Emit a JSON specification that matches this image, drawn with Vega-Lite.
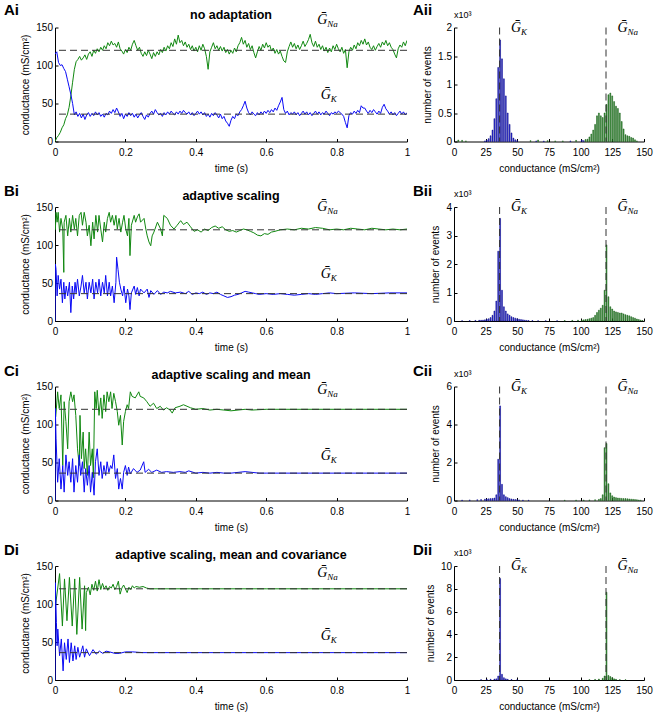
{
"$schema": "https://vega.github.io/schema/vega-lite/v6.json",
"padding": {"left": 3, "top": 2.5, "right": 5, "bottom": 5},
"config": {
  "font": "Liberation Sans",
  "view": {"stroke": null},
  "axis": {"labelFont": "Liberation Sans", "labelFontSize": 10, "labelColor": "#000", "titleFont": "Liberation Sans", "titleFontSize": 10, "titleFontWeight": "normal", "titleColor": "#000", "domainColor": "#000", "tickColor": "#000", "grid": false, "tickSize": -3, "labelFlush": false, "labelOverlap": false, "labelBound": false},
  "axisX": {"labelPadding": 8.5, "titlePadding": 6},
  "axisY": {"labelPadding": 5.5, "titlePadding": 5},
  "title": {"font": "Liberation Sans", "fontSize": 12.5, "fontWeight": "bold", "color": "#000", "offset": -18},
  "text": {"color": "#000"}
},
"datasets": {
"tsA": [
{"t":0,"g":0,"ch":"Na"},{"t":0.005,"g":5,"ch":"Na"},{"t":0.01,"g":8,"ch":"Na"},{"t":0.015,"g":12,"ch":"Na"},{"t":0.02,"g":18,"ch":"Na"},{"t":0.025,"g":22,"ch":"Na"},{"t":0.03,"g":30,"ch":"Na"},{"t":0.035,"g":35,"ch":"Na"},{"t":0.04,"g":45,"ch":"Na"},{"t":0.045,"g":60,"ch":"Na"},{"t":0.05,"g":78,"ch":"Na"},{"t":0.055,"g":95,"ch":"Na"},{"t":0.06,"g":105,"ch":"Na"},{"t":0.065,"g":108,"ch":"Na"},{"t":0.07,"g":112,"ch":"Na"},{"t":0.075,"g":107,"ch":"Na"},{"t":0.08,"g":110,"ch":"Na"},{"t":0.085,"g":114,"ch":"Na"},{"t":0.09,"g":108,"ch":"Na"},{"t":0.095,"g":115,"ch":"Na"},{"t":0.1,"g":118,"ch":"Na"},{"t":0.105,"g":112,"ch":"Na"},{"t":0.11,"g":120,"ch":"Na"},{"t":0.115,"g":116,"ch":"Na"},{"t":0.12,"g":122,"ch":"Na"},{"t":0.125,"g":118,"ch":"Na"},{"t":0.13,"g":124,"ch":"Na"},{"t":0.135,"g":120,"ch":"Na"},{"t":0.14,"g":126,"ch":"Na"},{"t":0.145,"g":122,"ch":"Na"},{"t":0.15,"g":130,"ch":"Na"},{"t":0.155,"g":126,"ch":"Na"},{"t":0.16,"g":132,"ch":"Na"},{"t":0.165,"g":127,"ch":"Na"},{"t":0.17,"g":129,"ch":"Na"},{"t":0.175,"g":124,"ch":"Na"},{"t":0.18,"g":131,"ch":"Na"},{"t":0.185,"g":122,"ch":"Na"},{"t":0.19,"g":119,"ch":"Na"},{"t":0.195,"g":115,"ch":"Na"},{"t":0.2,"g":121,"ch":"Na"},{"t":0.205,"g":117,"ch":"Na"},{"t":0.21,"g":124,"ch":"Na"},{"t":0.215,"g":120,"ch":"Na"},{"t":0.22,"g":128,"ch":"Na"},{"t":0.225,"g":133,"ch":"Na"},{"t":0.23,"g":126,"ch":"Na"},{"t":0.235,"g":120,"ch":"Na"},{"t":0.24,"g":124,"ch":"Na"},{"t":0.245,"g":116,"ch":"Na"},{"t":0.25,"g":112,"ch":"Na"},{"t":0.255,"g":118,"ch":"Na"},{"t":0.26,"g":113,"ch":"Na"},{"t":0.265,"g":120,"ch":"Na"},{"t":0.27,"g":115,"ch":"Na"},{"t":0.275,"g":109,"ch":"Na"},{"t":0.28,"g":117,"ch":"Na"},{"t":0.285,"g":112,"ch":"Na"},{"t":0.29,"g":118,"ch":"Na"},{"t":0.295,"g":114,"ch":"Na"},{"t":0.3,"g":121,"ch":"Na"},{"t":0.305,"g":117,"ch":"Na"},{"t":0.31,"g":124,"ch":"Na"},{"t":0.315,"g":119,"ch":"Na"},{"t":0.32,"g":126,"ch":"Na"},{"t":0.325,"g":122,"ch":"Na"},{"t":0.33,"g":130,"ch":"Na"},{"t":0.335,"g":125,"ch":"Na"},{"t":0.34,"g":135,"ch":"Na"},{"t":0.345,"g":128,"ch":"Na"},{"t":0.35,"g":140,"ch":"Na"},{"t":0.355,"g":130,"ch":"Na"},{"t":0.36,"g":133,"ch":"Na"},{"t":0.365,"g":126,"ch":"Na"},{"t":0.37,"g":131,"ch":"Na"},{"t":0.375,"g":124,"ch":"Na"},{"t":0.38,"g":128,"ch":"Na"},{"t":0.385,"g":121,"ch":"Na"},{"t":0.39,"g":126,"ch":"Na"},{"t":0.395,"g":119,"ch":"Na"},{"t":0.4,"g":124,"ch":"Na"},{"t":0.405,"g":118,"ch":"Na"},{"t":0.41,"g":126,"ch":"Na"},{"t":0.415,"g":120,"ch":"Na"},{"t":0.42,"g":128,"ch":"Na"},{"t":0.425,"g":122,"ch":"Na"},{"t":0.43,"g":112,"ch":"Na"},{"t":0.435,"g":95,"ch":"Na"},{"t":0.44,"g":118,"ch":"Na"},{"t":0.445,"g":124,"ch":"Na"},{"t":0.45,"g":130,"ch":"Na"},{"t":0.455,"g":122,"ch":"Na"},{"t":0.46,"g":126,"ch":"Na"},{"t":0.465,"g":120,"ch":"Na"},{"t":0.47,"g":125,"ch":"Na"},{"t":0.475,"g":119,"ch":"Na"},{"t":0.48,"g":124,"ch":"Na"},{"t":0.485,"g":117,"ch":"Na"},{"t":0.49,"g":121,"ch":"Na"},{"t":0.495,"g":115,"ch":"Na"},{"t":0.5,"g":120,"ch":"Na"},{"t":0.505,"g":116,"ch":"Na"},{"t":0.51,"g":123,"ch":"Na"},{"t":0.515,"g":118,"ch":"Na"},{"t":0.52,"g":126,"ch":"Na"},{"t":0.525,"g":130,"ch":"Na"},{"t":0.53,"g":137,"ch":"Na"},{"t":0.535,"g":128,"ch":"Na"},{"t":0.54,"g":133,"ch":"Na"},{"t":0.545,"g":124,"ch":"Na"},{"t":0.55,"g":129,"ch":"Na"},{"t":0.555,"g":121,"ch":"Na"},{"t":0.56,"g":126,"ch":"Na"},{"t":0.565,"g":117,"ch":"Na"},{"t":0.57,"g":110,"ch":"Na"},{"t":0.575,"g":118,"ch":"Na"},{"t":0.58,"g":125,"ch":"Na"},{"t":0.585,"g":120,"ch":"Na"},{"t":0.59,"g":128,"ch":"Na"},{"t":0.595,"g":123,"ch":"Na"},{"t":0.6,"g":130,"ch":"Na"},{"t":0.605,"g":124,"ch":"Na"},{"t":0.61,"g":127,"ch":"Na"},{"t":0.615,"g":119,"ch":"Na"},{"t":0.62,"g":123,"ch":"Na"},{"t":0.625,"g":116,"ch":"Na"},{"t":0.63,"g":121,"ch":"Na"},{"t":0.635,"g":115,"ch":"Na"},{"t":0.64,"g":119,"ch":"Na"},{"t":0.645,"g":112,"ch":"Na"},{"t":0.65,"g":106,"ch":"Na"},{"t":0.655,"g":104,"ch":"Na"},{"t":0.66,"g":118,"ch":"Na"},{"t":0.665,"g":125,"ch":"Na"},{"t":0.67,"g":131,"ch":"Na"},{"t":0.675,"g":124,"ch":"Na"},{"t":0.68,"g":129,"ch":"Na"},{"t":0.685,"g":122,"ch":"Na"},{"t":0.69,"g":127,"ch":"Na"},{"t":0.695,"g":121,"ch":"Na"},{"t":0.7,"g":126,"ch":"Na"},{"t":0.705,"g":132,"ch":"Na"},{"t":0.71,"g":125,"ch":"Na"},{"t":0.715,"g":129,"ch":"Na"},{"t":0.72,"g":134,"ch":"Na"},{"t":0.725,"g":141,"ch":"Na"},{"t":0.73,"g":130,"ch":"Na"},{"t":0.735,"g":125,"ch":"Na"},{"t":0.74,"g":132,"ch":"Na"},{"t":0.745,"g":124,"ch":"Na"},{"t":0.75,"g":128,"ch":"Na"},{"t":0.755,"g":121,"ch":"Na"},{"t":0.76,"g":126,"ch":"Na"},{"t":0.765,"g":119,"ch":"Na"},{"t":0.77,"g":124,"ch":"Na"},{"t":0.775,"g":117,"ch":"Na"},{"t":0.78,"g":123,"ch":"Na"},{"t":0.785,"g":118,"ch":"Na"},{"t":0.79,"g":126,"ch":"Na"},{"t":0.795,"g":121,"ch":"Na"},{"t":0.8,"g":128,"ch":"Na"},{"t":0.805,"g":122,"ch":"Na"},{"t":0.81,"g":118,"ch":"Na"},{"t":0.815,"g":124,"ch":"Na"},{"t":0.82,"g":116,"ch":"Na"},{"t":0.825,"g":121,"ch":"Na"},{"t":0.83,"g":97,"ch":"Na"},{"t":0.835,"g":118,"ch":"Na"},{"t":0.84,"g":124,"ch":"Na"},{"t":0.845,"g":120,"ch":"Na"},{"t":0.85,"g":127,"ch":"Na"},{"t":0.855,"g":122,"ch":"Na"},{"t":0.86,"g":130,"ch":"Na"},{"t":0.865,"g":126,"ch":"Na"},{"t":0.87,"g":133,"ch":"Na"},{"t":0.875,"g":128,"ch":"Na"},{"t":0.88,"g":135,"ch":"Na"},{"t":0.885,"g":127,"ch":"Na"},{"t":0.89,"g":131,"ch":"Na"},{"t":0.895,"g":124,"ch":"Na"},{"t":0.9,"g":121,"ch":"Na"},{"t":0.905,"g":126,"ch":"Na"},{"t":0.91,"g":120,"ch":"Na"},{"t":0.915,"g":125,"ch":"Na"},{"t":0.92,"g":129,"ch":"Na"},{"t":0.925,"g":124,"ch":"Na"},{"t":0.93,"g":131,"ch":"Na"},{"t":0.935,"g":127,"ch":"Na"},{"t":0.94,"g":133,"ch":"Na"},{"t":0.945,"g":126,"ch":"Na"},{"t":0.95,"g":130,"ch":"Na"},{"t":0.955,"g":124,"ch":"Na"},{"t":0.96,"g":121,"ch":"Na"},{"t":0.965,"g":115,"ch":"Na"},{"t":0.97,"g":110,"ch":"Na"},{"t":0.975,"g":122,"ch":"Na"},{"t":0.98,"g":127,"ch":"Na"},{"t":0.985,"g":124,"ch":"Na"},{"t":0.99,"g":131,"ch":"Na"},{"t":0.995,"g":126,"ch":"Na"},{"t":1,"g":133,"ch":"Na"},
{"t":0,"g":115,"ch":"K"},{"t":0.005,"g":118,"ch":"K"},{"t":0.01,"g":104,"ch":"K"},{"t":0.015,"g":100,"ch":"K"},{"t":0.02,"g":101,"ch":"K"},{"t":0.025,"g":96,"ch":"K"},{"t":0.03,"g":92,"ch":"K"},{"t":0.035,"g":82,"ch":"K"},{"t":0.04,"g":72,"ch":"K"},{"t":0.045,"g":62,"ch":"K"},{"t":0.05,"g":50,"ch":"K"},{"t":0.055,"g":35,"ch":"K"},{"t":0.06,"g":39,"ch":"K"},{"t":0.065,"g":33,"ch":"K"},{"t":0.07,"g":37,"ch":"K"},{"t":0.075,"g":31,"ch":"K"},{"t":0.08,"g":36,"ch":"K"},{"t":0.085,"g":29,"ch":"K"},{"t":0.09,"g":35,"ch":"K"},{"t":0.095,"g":38,"ch":"K"},{"t":0.1,"g":33,"ch":"K"},{"t":0.105,"g":37,"ch":"K"},{"t":0.11,"g":34,"ch":"K"},{"t":0.115,"g":39,"ch":"K"},{"t":0.12,"g":35,"ch":"K"},{"t":0.125,"g":38,"ch":"K"},{"t":0.13,"g":33,"ch":"K"},{"t":0.135,"g":36,"ch":"K"},{"t":0.14,"g":32,"ch":"K"},{"t":0.145,"g":37,"ch":"K"},{"t":0.15,"g":35,"ch":"K"},{"t":0.155,"g":40,"ch":"K"},{"t":0.16,"g":37,"ch":"K"},{"t":0.165,"g":42,"ch":"K"},{"t":0.17,"g":38,"ch":"K"},{"t":0.175,"g":44,"ch":"K"},{"t":0.18,"g":39,"ch":"K"},{"t":0.185,"g":33,"ch":"K"},{"t":0.19,"g":37,"ch":"K"},{"t":0.195,"g":30,"ch":"K"},{"t":0.2,"g":36,"ch":"K"},{"t":0.205,"g":33,"ch":"K"},{"t":0.21,"g":38,"ch":"K"},{"t":0.215,"g":34,"ch":"K"},{"t":0.22,"g":37,"ch":"K"},{"t":0.225,"g":32,"ch":"K"},{"t":0.23,"g":36,"ch":"K"},{"t":0.235,"g":31,"ch":"K"},{"t":0.24,"g":35,"ch":"K"},{"t":0.245,"g":38,"ch":"K"},{"t":0.25,"g":33,"ch":"K"},{"t":0.255,"g":29,"ch":"K"},{"t":0.26,"g":35,"ch":"K"},{"t":0.265,"g":32,"ch":"K"},{"t":0.27,"g":37,"ch":"K"},{"t":0.275,"g":40,"ch":"K"},{"t":0.28,"g":36,"ch":"K"},{"t":0.285,"g":42,"ch":"K"},{"t":0.29,"g":38,"ch":"K"},{"t":0.295,"g":35,"ch":"K"},{"t":0.3,"g":37,"ch":"K"},{"t":0.305,"g":33,"ch":"K"},{"t":0.31,"g":38,"ch":"K"},{"t":0.315,"g":35,"ch":"K"},{"t":0.32,"g":39,"ch":"K"},{"t":0.325,"g":36,"ch":"K"},{"t":0.33,"g":40,"ch":"K"},{"t":0.335,"g":37,"ch":"K"},{"t":0.34,"g":35,"ch":"K"},{"t":0.345,"g":39,"ch":"K"},{"t":0.35,"g":36,"ch":"K"},{"t":0.355,"g":40,"ch":"K"},{"t":0.36,"g":37,"ch":"K"},{"t":0.365,"g":41,"ch":"K"},{"t":0.37,"g":38,"ch":"K"},{"t":0.375,"g":36,"ch":"K"},{"t":0.38,"g":39,"ch":"K"},{"t":0.385,"g":35,"ch":"K"},{"t":0.39,"g":38,"ch":"K"},{"t":0.395,"g":34,"ch":"K"},{"t":0.4,"g":37,"ch":"K"},{"t":0.405,"g":40,"ch":"K"},{"t":0.41,"g":36,"ch":"K"},{"t":0.415,"g":39,"ch":"K"},{"t":0.42,"g":35,"ch":"K"},{"t":0.425,"g":38,"ch":"K"},{"t":0.43,"g":33,"ch":"K"},{"t":0.435,"g":36,"ch":"K"},{"t":0.44,"g":32,"ch":"K"},{"t":0.445,"g":37,"ch":"K"},{"t":0.45,"g":34,"ch":"K"},{"t":0.455,"g":38,"ch":"K"},{"t":0.46,"g":35,"ch":"K"},{"t":0.465,"g":31,"ch":"K"},{"t":0.47,"g":36,"ch":"K"},{"t":0.475,"g":30,"ch":"K"},{"t":0.48,"g":33,"ch":"K"},{"t":0.485,"g":27,"ch":"K"},{"t":0.49,"g":24,"ch":"K"},{"t":0.495,"g":20,"ch":"K"},{"t":0.5,"g":28,"ch":"K"},{"t":0.505,"g":33,"ch":"K"},{"t":0.51,"g":30,"ch":"K"},{"t":0.515,"g":36,"ch":"K"},{"t":0.52,"g":34,"ch":"K"},{"t":0.525,"g":39,"ch":"K"},{"t":0.53,"g":42,"ch":"K"},{"t":0.535,"g":47,"ch":"K"},{"t":0.54,"g":53,"ch":"K"},{"t":0.545,"g":44,"ch":"K"},{"t":0.55,"g":38,"ch":"K"},{"t":0.555,"g":35,"ch":"K"},{"t":0.56,"g":39,"ch":"K"},{"t":0.565,"g":36,"ch":"K"},{"t":0.57,"g":34,"ch":"K"},{"t":0.575,"g":38,"ch":"K"},{"t":0.58,"g":35,"ch":"K"},{"t":0.585,"g":39,"ch":"K"},{"t":0.59,"g":36,"ch":"K"},{"t":0.595,"g":40,"ch":"K"},{"t":0.6,"g":37,"ch":"K"},{"t":0.605,"g":41,"ch":"K"},{"t":0.61,"g":38,"ch":"K"},{"t":0.615,"g":42,"ch":"K"},{"t":0.62,"g":39,"ch":"K"},{"t":0.625,"g":44,"ch":"K"},{"t":0.63,"g":41,"ch":"K"},{"t":0.635,"g":47,"ch":"K"},{"t":0.64,"g":52,"ch":"K"},{"t":0.645,"g":58,"ch":"K"},{"t":0.65,"g":42,"ch":"K"},{"t":0.655,"g":37,"ch":"K"},{"t":0.66,"g":40,"ch":"K"},{"t":0.665,"g":35,"ch":"K"},{"t":0.67,"g":38,"ch":"K"},{"t":0.675,"g":36,"ch":"K"},{"t":0.68,"g":39,"ch":"K"},{"t":0.685,"g":35,"ch":"K"},{"t":0.69,"g":38,"ch":"K"},{"t":0.695,"g":34,"ch":"K"},{"t":0.7,"g":37,"ch":"K"},{"t":0.705,"g":40,"ch":"K"},{"t":0.71,"g":36,"ch":"K"},{"t":0.715,"g":39,"ch":"K"},{"t":0.72,"g":35,"ch":"K"},{"t":0.725,"g":38,"ch":"K"},{"t":0.73,"g":34,"ch":"K"},{"t":0.735,"g":37,"ch":"K"},{"t":0.74,"g":40,"ch":"K"},{"t":0.745,"g":36,"ch":"K"},{"t":0.75,"g":39,"ch":"K"},{"t":0.755,"g":35,"ch":"K"},{"t":0.76,"g":38,"ch":"K"},{"t":0.765,"g":36,"ch":"K"},{"t":0.77,"g":40,"ch":"K"},{"t":0.775,"g":37,"ch":"K"},{"t":0.78,"g":34,"ch":"K"},{"t":0.785,"g":38,"ch":"K"},{"t":0.79,"g":36,"ch":"K"},{"t":0.795,"g":39,"ch":"K"},{"t":0.8,"g":37,"ch":"K"},{"t":0.805,"g":40,"ch":"K"},{"t":0.81,"g":38,"ch":"K"},{"t":0.815,"g":36,"ch":"K"},{"t":0.82,"g":33,"ch":"K"},{"t":0.825,"g":25,"ch":"K"},{"t":0.83,"g":18,"ch":"K"},{"t":0.835,"g":34,"ch":"K"},{"t":0.84,"g":38,"ch":"K"},{"t":0.845,"g":36,"ch":"K"},{"t":0.85,"g":40,"ch":"K"},{"t":0.855,"g":37,"ch":"K"},{"t":0.86,"g":41,"ch":"K"},{"t":0.865,"g":38,"ch":"K"},{"t":0.87,"g":47,"ch":"K"},{"t":0.875,"g":44,"ch":"K"},{"t":0.88,"g":44,"ch":"K"},{"t":0.885,"g":40,"ch":"K"},{"t":0.89,"g":37,"ch":"K"},{"t":0.895,"g":41,"ch":"K"},{"t":0.9,"g":38,"ch":"K"},{"t":0.905,"g":42,"ch":"K"},{"t":0.91,"g":39,"ch":"K"},{"t":0.915,"g":36,"ch":"K"},{"t":0.92,"g":40,"ch":"K"},{"t":0.925,"g":37,"ch":"K"},{"t":0.93,"g":45,"ch":"K"},{"t":0.935,"g":49,"ch":"K"},{"t":0.94,"g":43,"ch":"K"},{"t":0.945,"g":40,"ch":"K"},{"t":0.95,"g":36,"ch":"K"},{"t":0.955,"g":39,"ch":"K"},{"t":0.96,"g":35,"ch":"K"},{"t":0.965,"g":38,"ch":"K"},{"t":0.97,"g":34,"ch":"K"},{"t":0.975,"g":37,"ch":"K"},{"t":0.98,"g":40,"ch":"K"},{"t":0.985,"g":36,"ch":"K"},{"t":0.99,"g":39,"ch":"K"},{"t":0.995,"g":35,"ch":"K"},{"t":1,"g":38,"ch":"K"}
],
"tsB": [
{"t":0.001,"g":120,"ch":"Na"},{"t":0.003,"g":143,"ch":"Na"},{"t":0.006,"g":130,"ch":"Na"},{"t":0.009,"g":143,"ch":"Na"},{"t":0.013,"g":117,"ch":"Na"},{"t":0.017,"g":135,"ch":"Na"},{"t":0.022,"g":121,"ch":"Na"},{"t":0.025,"g":64,"ch":"Na"},{"t":0.026,"g":130,"ch":"Na"},{"t":0.031,"g":139,"ch":"Na"},{"t":0.036,"g":112,"ch":"Na"},{"t":0.041,"g":135,"ch":"Na"},{"t":0.045,"g":117,"ch":"Na"},{"t":0.05,"g":139,"ch":"Na"},{"t":0.055,"g":121,"ch":"Na"},{"t":0.059,"g":135,"ch":"Na"},{"t":0.064,"g":112,"ch":"Na"},{"t":0.069,"g":139,"ch":"Na"},{"t":0.074,"g":143,"ch":"Na"},{"t":0.078,"g":126,"ch":"Na"},{"t":0.083,"g":143,"ch":"Na"},{"t":0.088,"g":130,"ch":"Na"},{"t":0.092,"g":112,"ch":"Na"},{"t":0.097,"g":126,"ch":"Na"},{"t":0.102,"g":99,"ch":"Na"},{"t":0.107,"g":130,"ch":"Na"},{"t":0.111,"g":108,"ch":"Na"},{"t":0.116,"g":139,"ch":"Na"},{"t":0.121,"g":117,"ch":"Na"},{"t":0.125,"g":139,"ch":"Na"},{"t":0.13,"g":121,"ch":"Na"},{"t":0.135,"g":104,"ch":"Na"},{"t":0.14,"g":130,"ch":"Na"},{"t":0.144,"g":117,"ch":"Na"},{"t":0.149,"g":135,"ch":"Na"},{"t":0.154,"g":143,"ch":"Na"},{"t":0.158,"g":130,"ch":"Na"},{"t":0.163,"g":139,"ch":"Na"},{"t":0.168,"g":126,"ch":"Na"},{"t":0.173,"g":139,"ch":"Na"},{"t":0.177,"g":121,"ch":"Na"},{"t":0.182,"g":135,"ch":"Na"},{"t":0.187,"g":117,"ch":"Na"},{"t":0.192,"g":130,"ch":"Na"},{"t":0.196,"g":139,"ch":"Na"},{"t":0.201,"g":121,"ch":"Na"},{"t":0.206,"g":112,"ch":"Na"},{"t":0.21,"g":135,"ch":"Na"},{"t":0.213,"g":86,"ch":"Na"},{"t":0.217,"g":126,"ch":"Na"},{"t":0.225,"g":139,"ch":"Na"},{"t":0.229,"g":130,"ch":"Na"},{"t":0.234,"g":137,"ch":"Na"},{"t":0.239,"g":141,"ch":"Na"},{"t":0.243,"g":130,"ch":"Na"},{"t":0.253,"g":135,"ch":"Na"},{"t":0.258,"g":121,"ch":"Na"},{"t":0.262,"g":112,"ch":"Na"},{"t":0.267,"g":104,"ch":"Na"},{"t":0.272,"g":99,"ch":"Na"},{"t":0.276,"g":112,"ch":"Na"},{"t":0.281,"g":117,"ch":"Na"},{"t":0.291,"g":130,"ch":"Na"},{"t":0.3,"g":121,"ch":"Na"},{"t":0.305,"g":112,"ch":"Na"},{"t":0.309,"g":139,"ch":"Na"},{"t":0.319,"g":135,"ch":"Na"},{"t":0.328,"g":126,"ch":"Na"},{"t":0.338,"g":121,"ch":"Na"},{"t":0.347,"g":126,"ch":"Na"},{"t":0.357,"g":132,"ch":"Na"},{"t":0.365,"g":127,"ch":"Na"},{"t":0.375,"g":130,"ch":"Na"},{"t":0.385,"g":124,"ch":"Na"},{"t":0.395,"g":118,"ch":"Na"},{"t":0.405,"g":120,"ch":"Na"},{"t":0.415,"g":117,"ch":"Na"},{"t":0.425,"g":121,"ch":"Na"},{"t":0.435,"g":119,"ch":"Na"},{"t":0.445,"g":123,"ch":"Na"},{"t":0.455,"g":125,"ch":"Na"},{"t":0.465,"g":122,"ch":"Na"},{"t":0.475,"g":124,"ch":"Na"},{"t":0.485,"g":120,"ch":"Na"},{"t":0.495,"g":118,"ch":"Na"},{"t":0.505,"g":119,"ch":"Na"},{"t":0.515,"g":117,"ch":"Na"},{"t":0.525,"g":119,"ch":"Na"},{"t":0.535,"g":121,"ch":"Na"},{"t":0.545,"g":120,"ch":"Na"},{"t":0.555,"g":118,"ch":"Na"},{"t":0.565,"g":116,"ch":"Na"},{"t":0.575,"g":113,"ch":"Na"},{"t":0.585,"g":112,"ch":"Na"},{"t":0.595,"g":115,"ch":"Na"},{"t":0.605,"g":114,"ch":"Na"},{"t":0.615,"g":117,"ch":"Na"},{"t":0.625,"g":118,"ch":"Na"},{"t":0.64,"g":120,"ch":"Na"},{"t":0.66,"g":121,"ch":"Na"},{"t":0.68,"g":120,"ch":"Na"},{"t":0.7,"g":122,"ch":"Na"},{"t":0.72,"g":121,"ch":"Na"},{"t":0.74,"g":123,"ch":"Na"},{"t":0.76,"g":122,"ch":"Na"},{"t":0.78,"g":120,"ch":"Na"},{"t":0.8,"g":121,"ch":"Na"},{"t":0.82,"g":120,"ch":"Na"},{"t":0.84,"g":122,"ch":"Na"},{"t":0.86,"g":121,"ch":"Na"},{"t":0.88,"g":120,"ch":"Na"},{"t":0.9,"g":122,"ch":"Na"},{"t":0.92,"g":121,"ch":"Na"},{"t":0.94,"g":120,"ch":"Na"},{"t":0.96,"g":121,"ch":"Na"},{"t":0.98,"g":120,"ch":"Na"},{"t":1,"g":121,"ch":"Na"},
{"t":0,"g":0,"ch":"K"},{"t":0.001,"g":75,"ch":"K"},{"t":0.003,"g":68,"ch":"K"},{"t":0.006,"g":33,"ch":"K"},{"t":0.009,"g":60,"ch":"K"},{"t":0.013,"g":42,"ch":"K"},{"t":0.017,"g":55,"ch":"K"},{"t":0.021,"g":24,"ch":"K"},{"t":0.025,"g":51,"ch":"K"},{"t":0.028,"g":29,"ch":"K"},{"t":0.032,"g":46,"ch":"K"},{"t":0.036,"g":33,"ch":"K"},{"t":0.041,"g":51,"ch":"K"},{"t":0.045,"g":11,"ch":"K"},{"t":0.049,"g":46,"ch":"K"},{"t":0.053,"g":29,"ch":"K"},{"t":0.057,"g":51,"ch":"K"},{"t":0.06,"g":37,"ch":"K"},{"t":0.064,"g":55,"ch":"K"},{"t":0.069,"g":33,"ch":"K"},{"t":0.074,"g":46,"ch":"K"},{"t":0.078,"g":60,"ch":"K"},{"t":0.083,"g":37,"ch":"K"},{"t":0.088,"g":51,"ch":"K"},{"t":0.092,"g":29,"ch":"K"},{"t":0.097,"g":51,"ch":"K"},{"t":0.102,"g":37,"ch":"K"},{"t":0.107,"g":55,"ch":"K"},{"t":0.111,"g":29,"ch":"K"},{"t":0.116,"g":51,"ch":"K"},{"t":0.121,"g":37,"ch":"K"},{"t":0.125,"g":55,"ch":"K"},{"t":0.13,"g":33,"ch":"K"},{"t":0.135,"g":51,"ch":"K"},{"t":0.14,"g":37,"ch":"K"},{"t":0.144,"g":60,"ch":"K"},{"t":0.149,"g":33,"ch":"K"},{"t":0.154,"g":51,"ch":"K"},{"t":0.158,"g":33,"ch":"K"},{"t":0.163,"g":46,"ch":"K"},{"t":0.168,"g":24,"ch":"K"},{"t":0.173,"g":51,"ch":"K"},{"t":0.175,"g":84,"ch":"K"},{"t":0.179,"g":68,"ch":"K"},{"t":0.183,"g":51,"ch":"K"},{"t":0.187,"g":42,"ch":"K"},{"t":0.192,"g":33,"ch":"K"},{"t":0.196,"g":46,"ch":"K"},{"t":0.201,"g":24,"ch":"K"},{"t":0.206,"g":42,"ch":"K"},{"t":0.21,"g":33,"ch":"K"},{"t":0.213,"g":15,"ch":"K"},{"t":0.217,"g":37,"ch":"K"},{"t":0.225,"g":46,"ch":"K"},{"t":0.229,"g":35,"ch":"K"},{"t":0.234,"g":44,"ch":"K"},{"t":0.239,"g":33,"ch":"K"},{"t":0.243,"g":42,"ch":"K"},{"t":0.253,"g":37,"ch":"K"},{"t":0.262,"g":42,"ch":"K"},{"t":0.267,"g":31,"ch":"K"},{"t":0.272,"g":40,"ch":"K"},{"t":0.281,"g":35,"ch":"K"},{"t":0.291,"g":40,"ch":"K"},{"t":0.3,"g":35,"ch":"K"},{"t":0.309,"g":38,"ch":"K"},{"t":0.319,"g":37,"ch":"K"},{"t":0.328,"g":39,"ch":"K"},{"t":0.342,"g":37,"ch":"K"},{"t":0.357,"g":38,"ch":"K"},{"t":0.37,"g":36,"ch":"K"},{"t":0.38,"g":39,"ch":"K"},{"t":0.39,"g":35,"ch":"K"},{"t":0.4,"g":37,"ch":"K"},{"t":0.41,"g":36,"ch":"K"},{"t":0.42,"g":38,"ch":"K"},{"t":0.43,"g":35,"ch":"K"},{"t":0.44,"g":37,"ch":"K"},{"t":0.45,"g":36,"ch":"K"},{"t":0.46,"g":38,"ch":"K"},{"t":0.47,"g":35,"ch":"K"},{"t":0.48,"g":33,"ch":"K"},{"t":0.49,"g":31,"ch":"K"},{"t":0.5,"g":32,"ch":"K"},{"t":0.51,"g":34,"ch":"K"},{"t":0.52,"g":35,"ch":"K"},{"t":0.53,"g":37,"ch":"K"},{"t":0.54,"g":39,"ch":"K"},{"t":0.55,"g":38,"ch":"K"},{"t":0.56,"g":37,"ch":"K"},{"t":0.57,"g":36,"ch":"K"},{"t":0.58,"g":35,"ch":"K"},{"t":0.6,"g":36,"ch":"K"},{"t":0.62,"g":35,"ch":"K"},{"t":0.64,"g":36,"ch":"K"},{"t":0.66,"g":35,"ch":"K"},{"t":0.68,"g":34,"ch":"K"},{"t":0.7,"g":35,"ch":"K"},{"t":0.72,"g":36,"ch":"K"},{"t":0.74,"g":35,"ch":"K"},{"t":0.76,"g":36,"ch":"K"},{"t":0.78,"g":37,"ch":"K"},{"t":0.8,"g":36,"ch":"K"},{"t":0.85,"g":37,"ch":"K"},{"t":0.9,"g":36,"ch":"K"},{"t":0.95,"g":37,"ch":"K"},{"t":1,"g":37,"ch":"K"}
],
"tsC": [
{"t":0.002,"g":110,"ch":"Na"},{"t":0.0075,"g":143,"ch":"Na"},{"t":0.012,"g":121,"ch":"Na"},{"t":0.017,"g":139,"ch":"Na"},{"t":0.022,"g":46,"ch":"Na"},{"t":0.026,"g":130,"ch":"Na"},{"t":0.031,"g":104,"ch":"Na"},{"t":0.036,"g":68,"ch":"Na"},{"t":0.04,"g":130,"ch":"Na"},{"t":0.045,"g":143,"ch":"Na"},{"t":0.05,"g":130,"ch":"Na"},{"t":0.054,"g":139,"ch":"Na"},{"t":0.059,"g":112,"ch":"Na"},{"t":0.064,"g":68,"ch":"Na"},{"t":0.069,"g":46,"ch":"Na"},{"t":0.071,"g":112,"ch":"Na"},{"t":0.075,"g":55,"ch":"Na"},{"t":0.08,"g":90,"ch":"Na"},{"t":0.083,"g":42,"ch":"Na"},{"t":0.087,"g":68,"ch":"Na"},{"t":0.092,"g":33,"ch":"Na"},{"t":0.097,"g":90,"ch":"Na"},{"t":0.101,"g":46,"ch":"Na"},{"t":0.106,"g":68,"ch":"Na"},{"t":0.109,"g":30,"ch":"Na"},{"t":0.113,"g":143,"ch":"Na"},{"t":0.117,"g":121,"ch":"Na"},{"t":0.12,"g":145,"ch":"Na"},{"t":0.125,"g":112,"ch":"Na"},{"t":0.13,"g":135,"ch":"Na"},{"t":0.134,"g":108,"ch":"Na"},{"t":0.139,"g":139,"ch":"Na"},{"t":0.144,"g":117,"ch":"Na"},{"t":0.148,"g":143,"ch":"Na"},{"t":0.153,"g":130,"ch":"Na"},{"t":0.158,"g":143,"ch":"Na"},{"t":0.162,"g":121,"ch":"Na"},{"t":0.167,"g":141,"ch":"Na"},{"t":0.172,"g":130,"ch":"Na"},{"t":0.177,"g":117,"ch":"Na"},{"t":0.181,"g":99,"ch":"Na"},{"t":0.186,"g":112,"ch":"Na"},{"t":0.191,"g":73,"ch":"Na"},{"t":0.195,"g":104,"ch":"Na"},{"t":0.2,"g":117,"ch":"Na"},{"t":0.205,"g":126,"ch":"Na"},{"t":0.209,"g":121,"ch":"Na"},{"t":0.214,"g":143,"ch":"Na"},{"t":0.219,"g":137,"ch":"Na"},{"t":0.228,"g":135,"ch":"Na"},{"t":0.238,"g":143,"ch":"Na"},{"t":0.242,"g":137,"ch":"Na"},{"t":0.252,"g":135,"ch":"Na"},{"t":0.261,"g":130,"ch":"Na"},{"t":0.27,"g":124,"ch":"Na"},{"t":0.28,"g":128,"ch":"Na"},{"t":0.289,"g":121,"ch":"Na"},{"t":0.299,"g":124,"ch":"Na"},{"t":0.308,"g":119,"ch":"Na"},{"t":0.317,"g":122,"ch":"Na"},{"t":0.327,"g":119,"ch":"Na"},{"t":0.333,"g":115,"ch":"Na"},{"t":0.341,"g":122,"ch":"Na"},{"t":0.355,"g":124,"ch":"Na"},{"t":0.365,"g":126,"ch":"Na"},{"t":0.375,"g":124,"ch":"Na"},{"t":0.385,"g":122,"ch":"Na"},{"t":0.4,"g":120,"ch":"Na"},{"t":0.42,"g":121,"ch":"Na"},{"t":0.44,"g":119,"ch":"Na"},{"t":0.46,"g":120,"ch":"Na"},{"t":0.48,"g":119,"ch":"Na"},{"t":0.5,"g":118,"ch":"Na"},{"t":0.52,"g":119,"ch":"Na"},{"t":0.54,"g":120,"ch":"Na"},{"t":0.56,"g":119,"ch":"Na"},{"t":0.6,"g":120,"ch":"Na"},{"t":0.65,"g":120,"ch":"Na"},{"t":0.7,"g":120,"ch":"Na"},{"t":0.8,"g":120,"ch":"Na"},{"t":0.9,"g":120,"ch":"Na"},{"t":1,"g":120,"ch":"Na"},
{"t":0,"g":0,"ch":"K"},{"t":0.001,"g":121,"ch":"K"},{"t":0.003,"g":82,"ch":"K"},{"t":0.0075,"g":24,"ch":"K"},{"t":0.012,"g":55,"ch":"K"},{"t":0.017,"g":15,"ch":"K"},{"t":0.022,"g":46,"ch":"K"},{"t":0.026,"g":11,"ch":"K"},{"t":0.031,"g":60,"ch":"K"},{"t":0.036,"g":33,"ch":"K"},{"t":0.04,"g":51,"ch":"K"},{"t":0.045,"g":24,"ch":"K"},{"t":0.05,"g":55,"ch":"K"},{"t":0.054,"g":11,"ch":"K"},{"t":0.059,"g":46,"ch":"K"},{"t":0.064,"g":24,"ch":"K"},{"t":0.069,"g":60,"ch":"K"},{"t":0.073,"g":33,"ch":"K"},{"t":0.078,"g":51,"ch":"K"},{"t":0.083,"g":11,"ch":"K"},{"t":0.087,"g":42,"ch":"K"},{"t":0.092,"g":20,"ch":"K"},{"t":0.097,"g":46,"ch":"K"},{"t":0.101,"g":11,"ch":"K"},{"t":0.106,"g":37,"ch":"K"},{"t":0.111,"g":7,"ch":"K"},{"t":0.115,"g":51,"ch":"K"},{"t":0.12,"g":68,"ch":"K"},{"t":0.125,"g":33,"ch":"K"},{"t":0.13,"g":51,"ch":"K"},{"t":0.134,"g":29,"ch":"K"},{"t":0.139,"g":46,"ch":"K"},{"t":0.144,"g":33,"ch":"K"},{"t":0.148,"g":51,"ch":"K"},{"t":0.153,"g":37,"ch":"K"},{"t":0.158,"g":46,"ch":"K"},{"t":0.162,"g":42,"ch":"K"},{"t":0.167,"g":60,"ch":"K"},{"t":0.172,"g":29,"ch":"K"},{"t":0.177,"g":42,"ch":"K"},{"t":0.181,"g":15,"ch":"K"},{"t":0.186,"g":29,"ch":"K"},{"t":0.191,"g":15,"ch":"K"},{"t":0.195,"g":37,"ch":"K"},{"t":0.2,"g":46,"ch":"K"},{"t":0.205,"g":33,"ch":"K"},{"t":0.209,"g":44,"ch":"K"},{"t":0.214,"g":35,"ch":"K"},{"t":0.223,"g":42,"ch":"K"},{"t":0.233,"g":37,"ch":"K"},{"t":0.242,"g":40,"ch":"K"},{"t":0.252,"g":51,"ch":"K"},{"t":0.256,"g":37,"ch":"K"},{"t":0.266,"g":41,"ch":"K"},{"t":0.275,"g":37,"ch":"K"},{"t":0.289,"g":40,"ch":"K"},{"t":0.303,"g":37,"ch":"K"},{"t":0.317,"g":38,"ch":"K"},{"t":0.336,"g":37,"ch":"K"},{"t":0.355,"g":38,"ch":"K"},{"t":0.37,"g":37,"ch":"K"},{"t":0.38,"g":39,"ch":"K"},{"t":0.4,"g":36,"ch":"K"},{"t":0.42,"g":37,"ch":"K"},{"t":0.44,"g":36,"ch":"K"},{"t":0.46,"g":37,"ch":"K"},{"t":0.48,"g":36,"ch":"K"},{"t":0.5,"g":36,"ch":"K"},{"t":0.52,"g":37,"ch":"K"},{"t":0.54,"g":38,"ch":"K"},{"t":0.56,"g":37,"ch":"K"},{"t":0.58,"g":36,"ch":"K"},{"t":0.6,"g":36,"ch":"K"},{"t":0.7,"g":36,"ch":"K"},{"t":0.8,"g":36,"ch":"K"},{"t":0.9,"g":36,"ch":"K"},{"t":1,"g":36,"ch":"K"}
],
"tsD": [
{"t":0.002,"g":100,"ch":"Na"},{"t":0.013,"g":140,"ch":"Na"},{"t":0.021,"g":71,"ch":"Na"},{"t":0.027,"g":133,"ch":"Na"},{"t":0.034,"g":78,"ch":"Na"},{"t":0.041,"g":135,"ch":"Na"},{"t":0.049,"g":71,"ch":"Na"},{"t":0.056,"g":133,"ch":"Na"},{"t":0.062,"g":60,"ch":"Na"},{"t":0.07,"g":135,"ch":"Na"},{"t":0.077,"g":67,"ch":"Na"},{"t":0.084,"g":124,"ch":"Na"},{"t":0.087,"g":65,"ch":"Na"},{"t":0.089,"g":115,"ch":"Na"},{"t":0.095,"g":122,"ch":"Na"},{"t":0.1,"g":112,"ch":"Na"},{"t":0.105,"g":126,"ch":"Na"},{"t":0.11,"g":118,"ch":"Na"},{"t":0.115,"g":130,"ch":"Na"},{"t":0.12,"g":117,"ch":"Na"},{"t":0.125,"g":132,"ch":"Na"},{"t":0.13,"g":119,"ch":"Na"},{"t":0.135,"g":127,"ch":"Na"},{"t":0.14,"g":120,"ch":"Na"},{"t":0.145,"g":124,"ch":"Na"},{"t":0.15,"g":118,"ch":"Na"},{"t":0.155,"g":123,"ch":"Na"},{"t":0.16,"g":121,"ch":"Na"},{"t":0.165,"g":126,"ch":"Na"},{"t":0.17,"g":119,"ch":"Na"},{"t":0.175,"g":123,"ch":"Na"},{"t":0.18,"g":130,"ch":"Na"},{"t":0.185,"g":113,"ch":"Na"},{"t":0.19,"g":121,"ch":"Na"},{"t":0.195,"g":125,"ch":"Na"},{"t":0.2,"g":120,"ch":"Na"},{"t":0.205,"g":115,"ch":"Na"},{"t":0.21,"g":122,"ch":"Na"},{"t":0.215,"g":119,"ch":"Na"},{"t":0.22,"g":124,"ch":"Na"},{"t":0.225,"g":121,"ch":"Na"},{"t":0.23,"g":123,"ch":"Na"},{"t":0.24,"g":122,"ch":"Na"},{"t":0.25,"g":123,"ch":"Na"},{"t":0.26,"g":121,"ch":"Na"},{"t":0.27,"g":120,"ch":"Na"},{"t":0.3,"g":120,"ch":"Na"},{"t":0.4,"g":120,"ch":"Na"},{"t":0.6,"g":120,"ch":"Na"},{"t":0.8,"g":120,"ch":"Na"},{"t":1,"g":120,"ch":"Na"},
{"t":0,"g":0,"ch":"K"},{"t":0.001,"g":128,"ch":"K"},{"t":0.004,"g":76,"ch":"K"},{"t":0.006,"g":45,"ch":"K"},{"t":0.008,"g":67,"ch":"K"},{"t":0.013,"g":32,"ch":"K"},{"t":0.018,"g":54,"ch":"K"},{"t":0.023,"g":12,"ch":"K"},{"t":0.027,"g":49,"ch":"K"},{"t":0.032,"g":27,"ch":"K"},{"t":0.037,"g":54,"ch":"K"},{"t":0.041,"g":23,"ch":"K"},{"t":0.046,"g":49,"ch":"K"},{"t":0.051,"g":25,"ch":"K"},{"t":0.056,"g":45,"ch":"K"},{"t":0.06,"g":27,"ch":"K"},{"t":0.065,"g":43,"ch":"K"},{"t":0.07,"g":30,"ch":"K"},{"t":0.079,"g":45,"ch":"K"},{"t":0.084,"g":30,"ch":"K"},{"t":0.089,"g":41,"ch":"K"},{"t":0.098,"g":32,"ch":"K"},{"t":0.108,"g":40,"ch":"K"},{"t":0.117,"g":34,"ch":"K"},{"t":0.126,"g":38,"ch":"K"},{"t":0.136,"g":35,"ch":"K"},{"t":0.145,"g":38,"ch":"K"},{"t":0.155,"g":37,"ch":"K"},{"t":0.17,"g":35,"ch":"K"},{"t":0.183,"g":35,"ch":"K"},{"t":0.2,"g":37,"ch":"K"},{"t":0.221,"g":37,"ch":"K"},{"t":0.25,"g":36,"ch":"K"},{"t":0.3,"g":36,"ch":"K"},{"t":0.5,"g":36,"ch":"K"},{"t":1,"g":36,"ch":"K"}
],
"hA": [
{"lo":23.25,"n":10,"ch":"K"},{"lo":24.75,"n":25,"ch":"K"},{"lo":26.25,"n":50,"ch":"K"},{"lo":27.75,"n":100,"ch":"K"},{"lo":29.25,"n":200,"ch":"K"},{"lo":30.75,"n":400,"ch":"K"},{"lo":32.25,"n":750,"ch":"K"},{"lo":33.75,"n":1300,"ch":"K"},{"lo":35.25,"n":1780,"ch":"K"},{"lo":36.75,"n":1450,"ch":"K"},{"lo":38.25,"n":1100,"ch":"K"},{"lo":39.75,"n":800,"ch":"K"},{"lo":41.25,"n":500,"ch":"K"},{"lo":42.75,"n":300,"ch":"K"},{"lo":44.25,"n":150,"ch":"K"},{"lo":45.75,"n":60,"ch":"K"},{"lo":47.25,"n":30,"ch":"K"},{"lo":48.75,"n":15,"ch":"K"},{"lo":63.75,"n":10,"ch":"K"},{"lo":69.75,"n":8,"ch":"K"},{"lo":90.75,"n":10,"ch":"K"},{"lo":99.75,"n":25,"ch":"K"},{"lo":101.25,"n":15,"ch":"K"},
{"lo":2.25,"n":25,"ch":"Na"},{"lo":5.25,"n":20,"ch":"Na"},{"lo":8.25,"n":10,"ch":"Na"},{"lo":59.25,"n":15,"ch":"Na"},{"lo":65.25,"n":25,"ch":"Na"},{"lo":72.75,"n":15,"ch":"Na"},{"lo":78.75,"n":10,"ch":"Na"},{"lo":84.75,"n":10,"ch":"Na"},{"lo":95.25,"n":20,"ch":"Na"},{"lo":102.75,"n":35,"ch":"Na"},{"lo":104.25,"n":40,"ch":"Na"},{"lo":105.75,"n":80,"ch":"Na"},{"lo":107.25,"n":130,"ch":"Na"},{"lo":108.75,"n":200,"ch":"Na"},{"lo":110.25,"n":300,"ch":"Na"},{"lo":111.75,"n":450,"ch":"Na"},{"lo":113.25,"n":500,"ch":"Na"},{"lo":114.75,"n":450,"ch":"Na"},{"lo":116.25,"n":420,"ch":"Na"},{"lo":117.75,"n":500,"ch":"Na"},{"lo":119.25,"n":650,"ch":"Na"},{"lo":120.75,"n":820,"ch":"Na"},{"lo":122.25,"n":850,"ch":"Na"},{"lo":123.75,"n":800,"ch":"Na"},{"lo":125.25,"n":700,"ch":"Na"},{"lo":126.75,"n":620,"ch":"Na"},{"lo":128.25,"n":580,"ch":"Na"},{"lo":129.75,"n":500,"ch":"Na"},{"lo":131.25,"n":350,"ch":"Na"},{"lo":132.75,"n":220,"ch":"Na"},{"lo":134.25,"n":120,"ch":"Na"},{"lo":135.75,"n":100,"ch":"Na"},{"lo":137.25,"n":90,"ch":"Na"},{"lo":138.75,"n":70,"ch":"Na"},{"lo":140.25,"n":60,"ch":"Na"},{"lo":141.75,"n":30,"ch":"Na"},{"lo":143.25,"n":10,"ch":"Na"}
],
"hB": [
{"lo":5.25,"n":10,"ch":"K"},{"lo":11.25,"n":15,"ch":"K"},{"lo":15.75,"n":20,"ch":"K"},{"lo":18.75,"n":25,"ch":"K"},{"lo":20.25,"n":25,"ch":"K"},{"lo":21.75,"n":30,"ch":"K"},{"lo":23.25,"n":40,"ch":"K"},{"lo":24.75,"n":60,"ch":"K"},{"lo":26.25,"n":80,"ch":"K"},{"lo":27.75,"n":120,"ch":"K"},{"lo":29.25,"n":200,"ch":"K"},{"lo":30.75,"n":350,"ch":"K"},{"lo":32.25,"n":700,"ch":"K"},{"lo":33.75,"n":2450,"ch":"K"},{"lo":35.25,"n":3600,"ch":"K"},{"lo":36.75,"n":1080,"ch":"K"},{"lo":38.25,"n":500,"ch":"K"},{"lo":39.75,"n":350,"ch":"K"},{"lo":41.25,"n":250,"ch":"K"},{"lo":42.75,"n":200,"ch":"K"},{"lo":44.25,"n":150,"ch":"K"},{"lo":45.75,"n":120,"ch":"K"},{"lo":47.25,"n":100,"ch":"K"},{"lo":48.75,"n":80,"ch":"K"},{"lo":50.25,"n":60,"ch":"K"},{"lo":51.75,"n":50,"ch":"K"},{"lo":53.25,"n":40,"ch":"K"},{"lo":54.75,"n":30,"ch":"K"},{"lo":56.25,"n":20,"ch":"K"},{"lo":57.75,"n":15,"ch":"K"},{"lo":60.75,"n":15,"ch":"K"},{"lo":65.25,"n":10,"ch":"K"},{"lo":71.25,"n":10,"ch":"K"},{"lo":80.25,"n":10,"ch":"K"},
{"lo":86.25,"n":15,"ch":"Na"},{"lo":92.25,"n":20,"ch":"Na"},{"lo":96.75,"n":25,"ch":"Na"},{"lo":99.75,"n":30,"ch":"Na"},{"lo":101.25,"n":40,"ch":"Na"},{"lo":102.75,"n":50,"ch":"Na"},{"lo":104.25,"n":60,"ch":"Na"},{"lo":105.75,"n":80,"ch":"Na"},{"lo":107.25,"n":100,"ch":"Na"},{"lo":108.75,"n":120,"ch":"Na"},{"lo":110.25,"n":200,"ch":"Na"},{"lo":111.75,"n":300,"ch":"Na"},{"lo":113.25,"n":380,"ch":"Na"},{"lo":114.75,"n":450,"ch":"Na"},{"lo":116.25,"n":550,"ch":"Na"},{"lo":117.75,"n":1080,"ch":"Na"},{"lo":119.25,"n":2670,"ch":"Na"},{"lo":120.75,"n":850,"ch":"Na"},{"lo":122.25,"n":500,"ch":"Na"},{"lo":123.75,"n":420,"ch":"Na"},{"lo":125.25,"n":350,"ch":"Na"},{"lo":126.75,"n":320,"ch":"Na"},{"lo":128.25,"n":300,"ch":"Na"},{"lo":129.75,"n":280,"ch":"Na"},{"lo":131.25,"n":280,"ch":"Na"},{"lo":132.75,"n":250,"ch":"Na"},{"lo":134.25,"n":220,"ch":"Na"},{"lo":135.75,"n":200,"ch":"Na"},{"lo":137.25,"n":180,"ch":"Na"},{"lo":138.75,"n":150,"ch":"Na"},{"lo":140.25,"n":120,"ch":"Na"},{"lo":141.75,"n":100,"ch":"Na"},{"lo":143.25,"n":70,"ch":"Na"},{"lo":144.75,"n":50,"ch":"Na"},{"lo":146.25,"n":30,"ch":"Na"},{"lo":147.75,"n":15,"ch":"Na"}
],
"hC": [
{"lo":5.25,"n":20,"ch":"K"},{"lo":11.25,"n":30,"ch":"K"},{"lo":17.25,"n":40,"ch":"K"},{"lo":20.25,"n":50,"ch":"K"},{"lo":23.25,"n":70,"ch":"K"},{"lo":24.75,"n":80,"ch":"K"},{"lo":26.25,"n":90,"ch":"K"},{"lo":27.75,"n":100,"ch":"K"},{"lo":29.25,"n":110,"ch":"K"},{"lo":30.75,"n":130,"ch":"K"},{"lo":32.25,"n":300,"ch":"K"},{"lo":33.75,"n":2170,"ch":"K"},{"lo":35.25,"n":4980,"ch":"K"},{"lo":36.75,"n":850,"ch":"K"},{"lo":38.25,"n":300,"ch":"K"},{"lo":39.75,"n":200,"ch":"K"},{"lo":41.25,"n":150,"ch":"K"},{"lo":42.75,"n":100,"ch":"K"},{"lo":44.25,"n":80,"ch":"K"},{"lo":45.75,"n":60,"ch":"K"},{"lo":47.25,"n":50,"ch":"K"},{"lo":48.75,"n":40,"ch":"K"},{"lo":50.25,"n":30,"ch":"K"},{"lo":53.25,"n":20,"ch":"K"},{"lo":57.75,"n":15,"ch":"K"},
{"lo":86.25,"n":15,"ch":"Na"},{"lo":95.25,"n":20,"ch":"Na"},{"lo":101.25,"n":25,"ch":"Na"},{"lo":105.75,"n":30,"ch":"Na"},{"lo":110.25,"n":40,"ch":"Na"},{"lo":113.25,"n":60,"ch":"Na"},{"lo":114.75,"n":100,"ch":"Na"},{"lo":116.25,"n":300,"ch":"Na"},{"lo":117.75,"n":2780,"ch":"Na"},{"lo":119.25,"n":3000,"ch":"Na"},{"lo":120.75,"n":880,"ch":"Na"},{"lo":122.25,"n":400,"ch":"Na"},{"lo":123.75,"n":250,"ch":"Na"},{"lo":125.25,"n":180,"ch":"Na"},{"lo":126.75,"n":150,"ch":"Na"},{"lo":128.25,"n":130,"ch":"Na"},{"lo":129.75,"n":120,"ch":"Na"},{"lo":131.25,"n":110,"ch":"Na"},{"lo":132.75,"n":100,"ch":"Na"},{"lo":134.25,"n":100,"ch":"Na"},{"lo":135.75,"n":90,"ch":"Na"},{"lo":137.25,"n":80,"ch":"Na"},{"lo":138.75,"n":70,"ch":"Na"},{"lo":140.25,"n":60,"ch":"Na"},{"lo":141.75,"n":50,"ch":"Na"},{"lo":143.25,"n":40,"ch":"Na"},{"lo":144.75,"n":25,"ch":"Na"},{"lo":146.25,"n":15,"ch":"Na"}
],
"hD": [
{"lo":20.25,"n":30,"ch":"K"},{"lo":24.75,"n":50,"ch":"K"},{"lo":27.75,"n":60,"ch":"K"},{"lo":30.75,"n":80,"ch":"K"},{"lo":32.25,"n":100,"ch":"K"},{"lo":33.75,"n":350,"ch":"K"},{"lo":35.25,"n":8900,"ch":"K"},{"lo":36.75,"n":500,"ch":"K"},{"lo":38.25,"n":200,"ch":"K"},{"lo":39.75,"n":100,"ch":"K"},{"lo":41.25,"n":60,"ch":"K"},{"lo":44.25,"n":40,"ch":"K"},{"lo":48.75,"n":20,"ch":"K"},
{"lo":105.75,"n":30,"ch":"Na"},{"lo":110.25,"n":50,"ch":"Na"},{"lo":113.25,"n":80,"ch":"Na"},{"lo":116.25,"n":150,"ch":"Na"},{"lo":117.75,"n":350,"ch":"Na"},{"lo":119.25,"n":7700,"ch":"Na"},{"lo":120.75,"n":400,"ch":"Na"},{"lo":122.25,"n":300,"ch":"Na"},{"lo":123.75,"n":200,"ch":"Na"},{"lo":125.25,"n":100,"ch":"Na"},{"lo":126.75,"n":60,"ch":"Na"},{"lo":129.75,"n":30,"ch":"Na"},{"lo":134.25,"n":20,"ch":"Na"}
]
},
"columns": 2,
"bounds": "flush",
"align": "each",
"spacing": {"row": 65.5, "column": 47},
"concat": [
    {"width": 352, "height": 114, "title": {"text": "no adaptation"},
     "resolve": {"axis": {"x": "independent", "y": "independent"}},
     "layer": [
      {"data": {"name": "tsA"}, "mark": {"type": "line", "strokeWidth": 1, "clip": true},
       "encoding": {
        "x": {"field": "t", "type": "quantitative", "scale": {"domain": [0, 1], "nice": false}, "axis": {"values": [0, 0.2, 0.4, 0.6, 0.8, 1], "format": "~g", "title": "time (s)", "labelOverlap": false}},
        "y": {"field": "g", "type": "quantitative", "scale": {"domain": [0, 150], "nice": false}, "axis": {"values": [0, 50, 100, 150], "title": "conductance (mS/cm²)", "labelOverlap": false}},
        "color": {"field": "ch", "type": "nominal", "scale": {"domain": ["Na", "K"], "range": ["#118811", "#0a0af5"]}, "legend": null}}},
      {"data": {"values": [{"ref": "Na", "g": 120}, {"ref": "K", "g": 36}]}, "mark": {"type": "rule", "color": "#333333", "strokeDash": [7, 4], "strokeWidth": 1}, "encoding": {"y": {"field": "g", "type": "quantitative", "axis": null}}},
      {"data": {"values": [{}]}, "mark": {"type": "text", "fontSize": 15, "fontWeight": "bold", "align": "left", "baseline": "middle"}, "encoding": {"x": {"datum": -0.145, "axis": null}, "y": {"datum": 173, "axis": null}, "text": {"value": "Ai"}}},
      {"data": {"values": [{}]}, "mark": {"type": "text", "font": "Liberation Serif, DejaVu Serif, serif", "fontStyle": "italic", "fontSize": 14, "align": "left", "baseline": "middle"}, "encoding": {"x": {"datum": 0.745, "axis": null}, "y": {"datum": 160, "axis": null}, "text": {"value": "Ḡ"}}},
      {"data": {"values": [{}]}, "mark": {"type": "text", "font": "Liberation Serif, DejaVu Serif, serif", "fontStyle": "italic", "fontSize": 9, "align": "left", "baseline": "middle", "dx": 10, "dy": 4}, "encoding": {"x": {"datum": 0.745, "axis": null}, "y": {"datum": 160, "axis": null}, "text": {"value": "Na"}}},
      {"data": {"values": [{}]}, "mark": {"type": "text", "font": "Liberation Serif, DejaVu Serif, serif", "fontStyle": "italic", "fontSize": 14, "align": "left", "baseline": "middle"}, "encoding": {"x": {"datum": 0.755, "axis": null}, "y": {"datum": 61, "axis": null}, "text": {"value": "Ḡ"}}},
      {"data": {"values": [{}]}, "mark": {"type": "text", "font": "Liberation Serif, DejaVu Serif, serif", "fontStyle": "italic", "fontSize": 9, "align": "left", "baseline": "middle", "dx": 10, "dy": 4}, "encoding": {"x": {"datum": 0.755, "axis": null}, "y": {"datum": 61, "axis": null}, "text": {"value": "K"}}}
     ]},
    {"width": 190, "height": 114,
     "resolve": {"axis": {"x": "independent", "y": "independent"}},
     "layer": [
      {"data": {"name": "hA"}, "mark": {"type": "bar", "strokeWidth": 0.5},
       "encoding": {
        "x": {"field": "lo", "type": "quantitative", "bin": {"binned": true, "step": 1.5}, "scale": {"domain": [0, 150], "nice": false}, "axis": {"values": [0, 25, 50, 75, 100, 125, 150], "title": "conductance (mS/cm²)", "labelOverlap": false}},
        "y": {"field": "n", "type": "quantitative", "scale": {"domain": [0, 2000], "nice": false}, "axis": {"values": [0, 500, 1000, 1500, 2000], "labelExpr": "format(datum.value/1000, '~g')", "title": "number of events", "labelOverlap": false}},
        "fill": {"field": "ch", "type": "nominal", "scale": {"domain": ["Na", "K"], "range": ["#3c9e3c", "#2828f0"]}, "legend": null},
        "stroke": {"field": "ch", "type": "nominal", "scale": {"domain": ["Na", "K"], "range": ["#0c500c", "#000078"]}, "legend": null}}},
      {"data": {"values": [{"ref": "K", "g": 36}, {"ref": "Na", "g": 120}]}, "mark": {"type": "rule", "color": "#333333", "strokeDash": [7, 4], "strokeWidth": 1}, "encoding": {"x": {"field": "g", "type": "quantitative", "axis": null}}},
      {"data": {"values": [{}]}, "mark": {"type": "text", "fontSize": 15, "fontWeight": "bold", "align": "left", "baseline": "middle"}, "encoding": {"x": {"datum": -32.4, "axis": null}, "y": {"datum": 2310, "axis": null}, "text": {"value": "Aii"}}},
      {"data": {"values": [{}]}, "mark": {"type": "text", "fontSize": 9, "align": "left", "baseline": "bottom", "dy": -8}, "encoding": {"x": {"datum": 0, "axis": null}, "y": {"datum": 2000, "axis": null}, "text": {"value": "x10³"}}},
      {"data": {"values": [{}]}, "mark": {"type": "text", "font": "Liberation Serif, DejaVu Serif, serif", "fontStyle": "italic", "fontSize": 14, "align": "left", "baseline": "middle"}, "encoding": {"x": {"datum": 45, "axis": null}, "y": {"datum": 2000, "axis": null}, "text": {"value": "Ḡ"}}},
      {"data": {"values": [{}]}, "mark": {"type": "text", "font": "Liberation Serif, DejaVu Serif, serif", "fontStyle": "italic", "fontSize": 9, "align": "left", "baseline": "middle", "dx": 10, "dy": 4}, "encoding": {"x": {"datum": 45, "axis": null}, "y": {"datum": 2000, "axis": null}, "text": {"value": "K"}}},
      {"data": {"values": [{}]}, "mark": {"type": "text", "font": "Liberation Serif, DejaVu Serif, serif", "fontStyle": "italic", "fontSize": 14, "align": "left", "baseline": "middle"}, "encoding": {"x": {"datum": 129, "axis": null}, "y": {"datum": 2000, "axis": null}, "text": {"value": "Ḡ"}}},
      {"data": {"values": [{}]}, "mark": {"type": "text", "font": "Liberation Serif, DejaVu Serif, serif", "fontStyle": "italic", "fontSize": 9, "align": "left", "baseline": "middle", "dx": 10, "dy": 4}, "encoding": {"x": {"datum": 129, "axis": null}, "y": {"datum": 2000, "axis": null}, "text": {"value": "Na"}}}
     ]},
    {"width": 352, "height": 114, "title": {"text": "adaptive scaling"},
     "resolve": {"axis": {"x": "independent", "y": "independent"}},
     "layer": [
      {"data": {"name": "tsB"}, "mark": {"type": "line", "strokeWidth": 1, "clip": true},
       "encoding": {
        "x": {"field": "t", "type": "quantitative", "scale": {"domain": [0, 1], "nice": false}, "axis": {"values": [0, 0.2, 0.4, 0.6, 0.8, 1], "format": "~g", "title": "time (s)", "labelOverlap": false}},
        "y": {"field": "g", "type": "quantitative", "scale": {"domain": [0, 150], "nice": false}, "axis": {"values": [0, 50, 100, 150], "title": "conductance (mS/cm²)", "labelOverlap": false}},
        "color": {"field": "ch", "type": "nominal", "scale": {"domain": ["Na", "K"], "range": ["#118811", "#0a0af5"]}, "legend": null}}},
      {"data": {"values": [{"ref": "Na", "g": 120}, {"ref": "K", "g": 36}]}, "mark": {"type": "rule", "color": "#333333", "strokeDash": [7, 4], "strokeWidth": 1}, "encoding": {"y": {"field": "g", "type": "quantitative", "axis": null}}},
      {"data": {"values": [{}]}, "mark": {"type": "text", "fontSize": 15, "fontWeight": "bold", "align": "left", "baseline": "middle"}, "encoding": {"x": {"datum": -0.145, "axis": null}, "y": {"datum": 171, "axis": null}, "text": {"value": "Bi"}}},
      {"data": {"values": [{}]}, "mark": {"type": "text", "font": "Liberation Serif, DejaVu Serif, serif", "fontStyle": "italic", "fontSize": 14, "align": "left", "baseline": "middle"}, "encoding": {"x": {"datum": 0.745, "axis": null}, "y": {"datum": 150, "axis": null}, "text": {"value": "Ḡ"}}},
      {"data": {"values": [{}]}, "mark": {"type": "text", "font": "Liberation Serif, DejaVu Serif, serif", "fontStyle": "italic", "fontSize": 9, "align": "left", "baseline": "middle", "dx": 10, "dy": 4}, "encoding": {"x": {"datum": 0.745, "axis": null}, "y": {"datum": 150, "axis": null}, "text": {"value": "Na"}}},
      {"data": {"values": [{}]}, "mark": {"type": "text", "font": "Liberation Serif, DejaVu Serif, serif", "fontStyle": "italic", "fontSize": 14, "align": "left", "baseline": "middle"}, "encoding": {"x": {"datum": 0.755, "axis": null}, "y": {"datum": 62, "axis": null}, "text": {"value": "Ḡ"}}},
      {"data": {"values": [{}]}, "mark": {"type": "text", "font": "Liberation Serif, DejaVu Serif, serif", "fontStyle": "italic", "fontSize": 9, "align": "left", "baseline": "middle", "dx": 10, "dy": 4}, "encoding": {"x": {"datum": 0.755, "axis": null}, "y": {"datum": 62, "axis": null}, "text": {"value": "K"}}}
     ]},
    {"width": 190, "height": 114,
     "resolve": {"axis": {"x": "independent", "y": "independent"}},
     "layer": [
      {"data": {"name": "hB"}, "mark": {"type": "bar", "strokeWidth": 0.5},
       "encoding": {
        "x": {"field": "lo", "type": "quantitative", "bin": {"binned": true, "step": 1.5}, "scale": {"domain": [0, 150], "nice": false}, "axis": {"values": [0, 25, 50, 75, 100, 125, 150], "title": "conductance (mS/cm²)", "labelOverlap": false}},
        "y": {"field": "n", "type": "quantitative", "scale": {"domain": [0, 4000], "nice": false}, "axis": {"values": [0, 1000, 2000, 3000, 4000], "labelExpr": "format(datum.value/1000, '~g')", "title": "number of events", "labelOverlap": false}},
        "fill": {"field": "ch", "type": "nominal", "scale": {"domain": ["Na", "K"], "range": ["#3c9e3c", "#2828f0"]}, "legend": null},
        "stroke": {"field": "ch", "type": "nominal", "scale": {"domain": ["Na", "K"], "range": ["#0c500c", "#000078"]}, "legend": null}}},
      {"data": {"values": [{"ref": "K", "g": 36}, {"ref": "Na", "g": 120}]}, "mark": {"type": "rule", "color": "#333333", "strokeDash": [7, 4], "strokeWidth": 1}, "encoding": {"x": {"field": "g", "type": "quantitative", "axis": null}}},
      {"data": {"values": [{}]}, "mark": {"type": "text", "fontSize": 15, "fontWeight": "bold", "align": "left", "baseline": "middle"}, "encoding": {"x": {"datum": -32.4, "axis": null}, "y": {"datum": 4560, "axis": null}, "text": {"value": "Bii"}}},
      {"data": {"values": [{}]}, "mark": {"type": "text", "fontSize": 9, "align": "left", "baseline": "bottom", "dy": -8}, "encoding": {"x": {"datum": 0, "axis": null}, "y": {"datum": 4000, "axis": null}, "text": {"value": "x10³"}}},
      {"data": {"values": [{}]}, "mark": {"type": "text", "font": "Liberation Serif, DejaVu Serif, serif", "fontStyle": "italic", "fontSize": 14, "align": "left", "baseline": "middle"}, "encoding": {"x": {"datum": 45, "axis": null}, "y": {"datum": 4000, "axis": null}, "text": {"value": "Ḡ"}}},
      {"data": {"values": [{}]}, "mark": {"type": "text", "font": "Liberation Serif, DejaVu Serif, serif", "fontStyle": "italic", "fontSize": 9, "align": "left", "baseline": "middle", "dx": 10, "dy": 4}, "encoding": {"x": {"datum": 45, "axis": null}, "y": {"datum": 4000, "axis": null}, "text": {"value": "K"}}},
      {"data": {"values": [{}]}, "mark": {"type": "text", "font": "Liberation Serif, DejaVu Serif, serif", "fontStyle": "italic", "fontSize": 14, "align": "left", "baseline": "middle"}, "encoding": {"x": {"datum": 129, "axis": null}, "y": {"datum": 4000, "axis": null}, "text": {"value": "Ḡ"}}},
      {"data": {"values": [{}]}, "mark": {"type": "text", "font": "Liberation Serif, DejaVu Serif, serif", "fontStyle": "italic", "fontSize": 9, "align": "left", "baseline": "middle", "dx": 10, "dy": 4}, "encoding": {"x": {"datum": 129, "axis": null}, "y": {"datum": 4000, "axis": null}, "text": {"value": "Na"}}}
     ]},
    {"width": 352, "height": 114, "title": {"text": "adaptive scaling and mean"},
     "resolve": {"axis": {"x": "independent", "y": "independent"}},
     "layer": [
      {"data": {"name": "tsC"}, "mark": {"type": "line", "strokeWidth": 1, "clip": true},
       "encoding": {
        "x": {"field": "t", "type": "quantitative", "scale": {"domain": [0, 1], "nice": false}, "axis": {"values": [0, 0.2, 0.4, 0.6, 0.8, 1], "format": "~g", "title": "time (s)", "labelOverlap": false}},
        "y": {"field": "g", "type": "quantitative", "scale": {"domain": [0, 150], "nice": false}, "axis": {"values": [0, 50, 100, 150], "title": "conductance (mS/cm²)", "labelOverlap": false}},
        "color": {"field": "ch", "type": "nominal", "scale": {"domain": ["Na", "K"], "range": ["#118811", "#0a0af5"]}, "legend": null}}},
      {"data": {"values": [{"ref": "Na", "g": 120}, {"ref": "K", "g": 36}]}, "mark": {"type": "rule", "color": "#333333", "strokeDash": [7, 4], "strokeWidth": 1}, "encoding": {"y": {"field": "g", "type": "quantitative", "axis": null}}},
      {"data": {"values": [{}]}, "mark": {"type": "text", "fontSize": 15, "fontWeight": "bold", "align": "left", "baseline": "middle"}, "encoding": {"x": {"datum": -0.145, "axis": null}, "y": {"datum": 171, "axis": null}, "text": {"value": "Ci"}}},
      {"data": {"values": [{}]}, "mark": {"type": "text", "font": "Liberation Serif, DejaVu Serif, serif", "fontStyle": "italic", "fontSize": 14, "align": "left", "baseline": "middle"}, "encoding": {"x": {"datum": 0.745, "axis": null}, "y": {"datum": 145, "axis": null}, "text": {"value": "Ḡ"}}},
      {"data": {"values": [{}]}, "mark": {"type": "text", "font": "Liberation Serif, DejaVu Serif, serif", "fontStyle": "italic", "fontSize": 9, "align": "left", "baseline": "middle", "dx": 10, "dy": 4}, "encoding": {"x": {"datum": 0.745, "axis": null}, "y": {"datum": 145, "axis": null}, "text": {"value": "Na"}}},
      {"data": {"values": [{}]}, "mark": {"type": "text", "font": "Liberation Serif, DejaVu Serif, serif", "fontStyle": "italic", "fontSize": 14, "align": "left", "baseline": "middle"}, "encoding": {"x": {"datum": 0.755, "axis": null}, "y": {"datum": 59, "axis": null}, "text": {"value": "Ḡ"}}},
      {"data": {"values": [{}]}, "mark": {"type": "text", "font": "Liberation Serif, DejaVu Serif, serif", "fontStyle": "italic", "fontSize": 9, "align": "left", "baseline": "middle", "dx": 10, "dy": 4}, "encoding": {"x": {"datum": 0.755, "axis": null}, "y": {"datum": 59, "axis": null}, "text": {"value": "K"}}}
     ]},
    {"width": 190, "height": 114,
     "resolve": {"axis": {"x": "independent", "y": "independent"}},
     "layer": [
      {"data": {"name": "hC"}, "mark": {"type": "bar", "strokeWidth": 0.5},
       "encoding": {
        "x": {"field": "lo", "type": "quantitative", "bin": {"binned": true, "step": 1.5}, "scale": {"domain": [0, 150], "nice": false}, "axis": {"values": [0, 25, 50, 75, 100, 125, 150], "title": "conductance (mS/cm²)", "labelOverlap": false}},
        "y": {"field": "n", "type": "quantitative", "scale": {"domain": [0, 6000], "nice": false}, "axis": {"values": [0, 2000, 4000, 6000], "labelExpr": "format(datum.value/1000, '~g')", "title": "number of events", "labelOverlap": false}},
        "fill": {"field": "ch", "type": "nominal", "scale": {"domain": ["Na", "K"], "range": ["#3c9e3c", "#2828f0"]}, "legend": null},
        "stroke": {"field": "ch", "type": "nominal", "scale": {"domain": ["Na", "K"], "range": ["#0c500c", "#000078"]}, "legend": null}}},
      {"data": {"values": [{"ref": "K", "g": 36}, {"ref": "Na", "g": 120}]}, "mark": {"type": "rule", "color": "#333333", "strokeDash": [7, 4], "strokeWidth": 1}, "encoding": {"x": {"field": "g", "type": "quantitative", "axis": null}}},
      {"data": {"values": [{}]}, "mark": {"type": "text", "fontSize": 15, "fontWeight": "bold", "align": "left", "baseline": "middle"}, "encoding": {"x": {"datum": -32.4, "axis": null}, "y": {"datum": 6840, "axis": null}, "text": {"value": "Cii"}}},
      {"data": {"values": [{}]}, "mark": {"type": "text", "fontSize": 9, "align": "left", "baseline": "bottom", "dy": -8}, "encoding": {"x": {"datum": 0, "axis": null}, "y": {"datum": 6000, "axis": null}, "text": {"value": "x10³"}}},
      {"data": {"values": [{}]}, "mark": {"type": "text", "font": "Liberation Serif, DejaVu Serif, serif", "fontStyle": "italic", "fontSize": 14, "align": "left", "baseline": "middle"}, "encoding": {"x": {"datum": 45, "axis": null}, "y": {"datum": 6000, "axis": null}, "text": {"value": "Ḡ"}}},
      {"data": {"values": [{}]}, "mark": {"type": "text", "font": "Liberation Serif, DejaVu Serif, serif", "fontStyle": "italic", "fontSize": 9, "align": "left", "baseline": "middle", "dx": 10, "dy": 4}, "encoding": {"x": {"datum": 45, "axis": null}, "y": {"datum": 6000, "axis": null}, "text": {"value": "K"}}},
      {"data": {"values": [{}]}, "mark": {"type": "text", "font": "Liberation Serif, DejaVu Serif, serif", "fontStyle": "italic", "fontSize": 14, "align": "left", "baseline": "middle"}, "encoding": {"x": {"datum": 129, "axis": null}, "y": {"datum": 6000, "axis": null}, "text": {"value": "Ḡ"}}},
      {"data": {"values": [{}]}, "mark": {"type": "text", "font": "Liberation Serif, DejaVu Serif, serif", "fontStyle": "italic", "fontSize": 9, "align": "left", "baseline": "middle", "dx": 10, "dy": 4}, "encoding": {"x": {"datum": 129, "axis": null}, "y": {"datum": 6000, "axis": null}, "text": {"value": "Na"}}}
     ]},
    {"width": 352, "height": 114, "title": {"text": "adaptive scaling, mean and covariance"},
     "resolve": {"axis": {"x": "independent", "y": "independent"}},
     "layer": [
      {"data": {"name": "tsD"}, "mark": {"type": "line", "strokeWidth": 1, "clip": true},
       "encoding": {
        "x": {"field": "t", "type": "quantitative", "scale": {"domain": [0, 1], "nice": false}, "axis": {"values": [0, 0.2, 0.4, 0.6, 0.8, 1], "format": "~g", "title": "time (s)", "labelOverlap": false}},
        "y": {"field": "g", "type": "quantitative", "scale": {"domain": [0, 150], "nice": false}, "axis": {"values": [0, 50, 100, 150], "title": "conductance (mS/cm²)", "labelOverlap": false}},
        "color": {"field": "ch", "type": "nominal", "scale": {"domain": ["Na", "K"], "range": ["#118811", "#0a0af5"]}, "legend": null}}},
      {"data": {"values": [{"ref": "Na", "g": 120}, {"ref": "K", "g": 36}]}, "mark": {"type": "rule", "color": "#333333", "strokeDash": [7, 4], "strokeWidth": 1}, "encoding": {"y": {"field": "g", "type": "quantitative", "axis": null}}},
      {"data": {"values": [{}]}, "mark": {"type": "text", "fontSize": 15, "fontWeight": "bold", "align": "left", "baseline": "middle"}, "encoding": {"x": {"datum": -0.145, "axis": null}, "y": {"datum": 171, "axis": null}, "text": {"value": "Di"}}},
      {"data": {"values": [{}]}, "mark": {"type": "text", "font": "Liberation Serif, DejaVu Serif, serif", "fontStyle": "italic", "fontSize": 14, "align": "left", "baseline": "middle"}, "encoding": {"x": {"datum": 0.745, "axis": null}, "y": {"datum": 141, "axis": null}, "text": {"value": "Ḡ"}}},
      {"data": {"values": [{}]}, "mark": {"type": "text", "font": "Liberation Serif, DejaVu Serif, serif", "fontStyle": "italic", "fontSize": 9, "align": "left", "baseline": "middle", "dx": 10, "dy": 4}, "encoding": {"x": {"datum": 0.745, "axis": null}, "y": {"datum": 141, "axis": null}, "text": {"value": "Na"}}},
      {"data": {"values": [{}]}, "mark": {"type": "text", "font": "Liberation Serif, DejaVu Serif, serif", "fontStyle": "italic", "fontSize": 14, "align": "left", "baseline": "middle"}, "encoding": {"x": {"datum": 0.755, "axis": null}, "y": {"datum": 58, "axis": null}, "text": {"value": "Ḡ"}}},
      {"data": {"values": [{}]}, "mark": {"type": "text", "font": "Liberation Serif, DejaVu Serif, serif", "fontStyle": "italic", "fontSize": 9, "align": "left", "baseline": "middle", "dx": 10, "dy": 4}, "encoding": {"x": {"datum": 0.755, "axis": null}, "y": {"datum": 58, "axis": null}, "text": {"value": "K"}}}
     ]},
    {"width": 190, "height": 114,
     "resolve": {"axis": {"x": "independent", "y": "independent"}},
     "layer": [
      {"data": {"name": "hD"}, "mark": {"type": "bar", "strokeWidth": 0.5},
       "encoding": {
        "x": {"field": "lo", "type": "quantitative", "bin": {"binned": true, "step": 1.5}, "scale": {"domain": [0, 150], "nice": false}, "axis": {"values": [0, 25, 50, 75, 100, 125, 150], "title": "conductance (mS/cm²)", "labelOverlap": false}},
        "y": {"field": "n", "type": "quantitative", "scale": {"domain": [0, 10000], "nice": false}, "axis": {"values": [0, 2000, 4000, 6000, 8000, 10000], "labelExpr": "format(datum.value/1000, '~g')", "title": "number of events", "labelOverlap": false}},
        "fill": {"field": "ch", "type": "nominal", "scale": {"domain": ["Na", "K"], "range": ["#3c9e3c", "#2828f0"]}, "legend": null},
        "stroke": {"field": "ch", "type": "nominal", "scale": {"domain": ["Na", "K"], "range": ["#0c500c", "#000078"]}, "legend": null}}},
      {"data": {"values": [{"ref": "K", "g": 36}, {"ref": "Na", "g": 120}]}, "mark": {"type": "rule", "color": "#333333", "strokeDash": [7, 4], "strokeWidth": 1}, "encoding": {"x": {"field": "g", "type": "quantitative", "axis": null}}},
      {"data": {"values": [{}]}, "mark": {"type": "text", "fontSize": 15, "fontWeight": "bold", "align": "left", "baseline": "middle"}, "encoding": {"x": {"datum": -32.4, "axis": null}, "y": {"datum": 11400, "axis": null}, "text": {"value": "Dii"}}},
      {"data": {"values": [{}]}, "mark": {"type": "text", "fontSize": 9, "align": "left", "baseline": "bottom", "dy": -8}, "encoding": {"x": {"datum": 0, "axis": null}, "y": {"datum": 10000, "axis": null}, "text": {"value": "x10³"}}},
      {"data": {"values": [{}]}, "mark": {"type": "text", "font": "Liberation Serif, DejaVu Serif, serif", "fontStyle": "italic", "fontSize": 14, "align": "left", "baseline": "middle"}, "encoding": {"x": {"datum": 45, "axis": null}, "y": {"datum": 10000, "axis": null}, "text": {"value": "Ḡ"}}},
      {"data": {"values": [{}]}, "mark": {"type": "text", "font": "Liberation Serif, DejaVu Serif, serif", "fontStyle": "italic", "fontSize": 9, "align": "left", "baseline": "middle", "dx": 10, "dy": 4}, "encoding": {"x": {"datum": 45, "axis": null}, "y": {"datum": 10000, "axis": null}, "text": {"value": "K"}}},
      {"data": {"values": [{}]}, "mark": {"type": "text", "font": "Liberation Serif, DejaVu Serif, serif", "fontStyle": "italic", "fontSize": 14, "align": "left", "baseline": "middle"}, "encoding": {"x": {"datum": 129, "axis": null}, "y": {"datum": 10000, "axis": null}, "text": {"value": "Ḡ"}}},
      {"data": {"values": [{}]}, "mark": {"type": "text", "font": "Liberation Serif, DejaVu Serif, serif", "fontStyle": "italic", "fontSize": 9, "align": "left", "baseline": "middle", "dx": 10, "dy": 4}, "encoding": {"x": {"datum": 129, "axis": null}, "y": {"datum": 10000, "axis": null}, "text": {"value": "Na"}}}
     ]}
]
}
